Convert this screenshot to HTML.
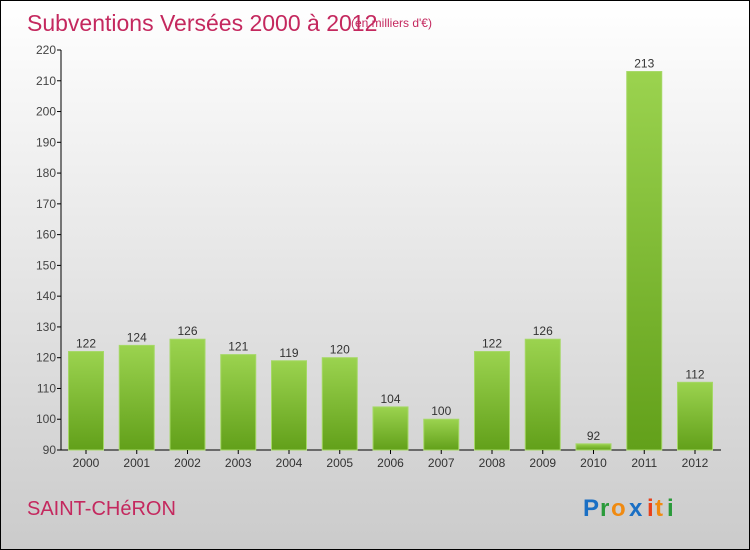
<!DOCTYPE html>
<html><head><meta charset="utf-8"><style>
body{margin:0}
#c{width:748px;height:548px;border:1px solid #000;background:linear-gradient(#fff,#cbcbcb);position:relative;overflow:hidden;font-family:"Liberation Sans",sans-serif}
</style></head><body>
<div id="c">
<svg id="s" width="748" height="548" style="position:absolute;left:0;top:0">
<defs><linearGradient id="g" x1="0" y1="0" x2="0" y2="1"><stop offset="0" stop-color="#9bd34f"/><stop offset="1" stop-color="#62a01a"/></linearGradient></defs>
<text x="26" y="30" font-size="23" fill="#c4285e">Subventions Versées 2000 à 2012</text>
<text x="350" y="26" font-size="12" fill="#c4285e">(en milliers d'€)</text>
<text x="26" y="514" font-size="20" fill="#c4285e">SAINT-CHéRON</text>
<g font-size="24" font-weight="bold">
<text x="582" y="515" fill="#1a6fc4">P</text><text x="599" y="515" fill="#2a9a3a">r</text><text x="610" y="515" fill="#f08a10">o</text><text x="628" y="515" fill="#1a6fc4">x</text><text x="646" y="515" fill="#e8401a">i</text><text x="654" y="515" fill="#f08a10">t</text><text x="666" y="515" fill="#2a9a3a">i</text></g>
<g id="plot"></g>
</svg></div>
<script>
const categories=["2000","2001","2002","2003","2004","2005","2006","2007","2008","2009","2010","2011","2012"];
const values=[122,124,126,121,119,120,104,100,122,126,92,213,112];
const ticks=[90,100,110,120,130,140,150,160,170,180,190,200,210,220];
const ns="http://www.w3.org/2000/svg",p=document.getElementById("plot");
const y=v=>449-(v-90)*400/130, x=i=>85+i*50.75;
function el(t,a,par){const e=document.createElementNS(ns,t);for(const k in a)e.setAttribute(k,a[k]);(par||p).appendChild(e);return e;}
const ax=el("line",{x1:60,y1:49,x2:60,y2:449,stroke:"#000"});


const bx=el("line",{x1:60,y1:449,x2:720,y2:449,stroke:"#000"});


ticks.forEach(t=>{el("line",{x1:56,y1:y(t),x2:60,y2:y(t),stroke:"#000"});
const tx=el("text",{x:55,y:y(t)+4,"text-anchor":"end","font-size":12,fill:"#444"});tx.textContent=t;

});
categories.forEach((c,i)=>{const cx=x(i);
const r=el("rect",{x:cx-17.5,y:y(values[i]),width:35,height:449-y(values[i]),fill:"url(#g)",stroke:"#a5d866","stroke-width":1});


const v=el("text",{x:cx,y:y(values[i])-4,"text-anchor":"middle","font-size":12,fill:"#333"});v.textContent=values[i];


el("line",{x1:cx,y1:449,x2:cx,y2:453,stroke:"#000"});
const l=el("text",{x:cx,y:466,"text-anchor":"middle","font-size":12,fill:"#333"});l.textContent=c;

});
</script>
</body></html>
